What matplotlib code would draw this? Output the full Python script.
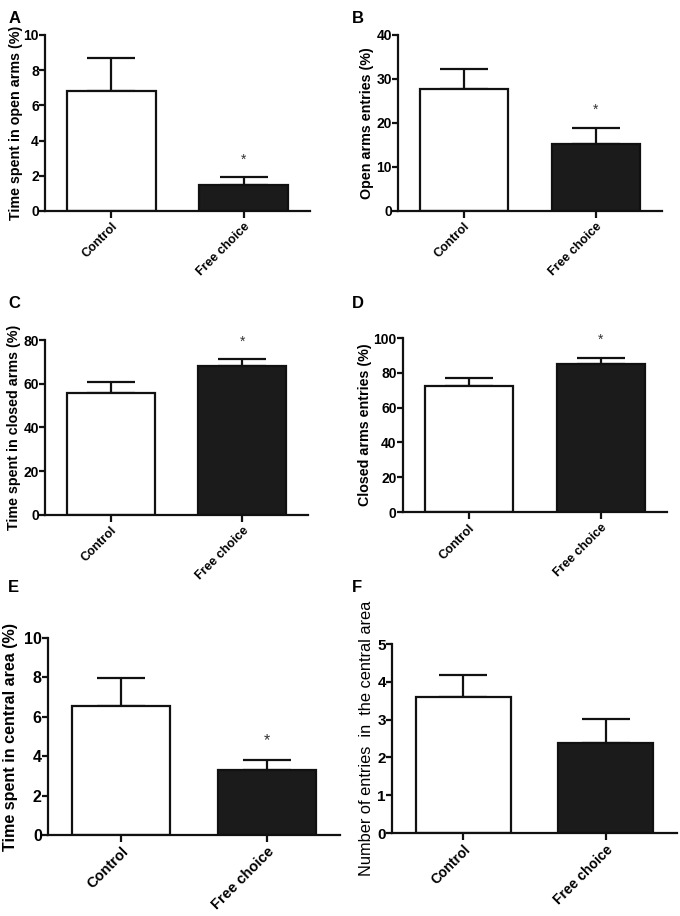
import numpy as np
import matplotlib
matplotlib.use("Agg")
import matplotlib.pyplot as plt

plt.rcParams['font.family'] = ['Liberation Sans', 'DejaVu Sans']

# data (mean, upper SEM)
groups = ["Control", "Free choice"]

open_time_mean = [6.82, 1.46]
open_time_err = [1.85, 0.45]

open_entries_mean = [27.7, 15.2]
open_entries_err = [4.6, 3.7]

closed_time_mean = [55.9, 68.1]
closed_time_err = [4.9, 3.1]

closed_entries_mean = [72.6, 85.2]
closed_entries_err = [4.4, 3.5]

central_time_mean = [6.57, 3.28]
central_time_err = [1.39, 0.52]

central_entries_mean = [3.59, 2.38]
central_entries_err = [0.59, 0.63]

significant = {
    "A": [False, True], "B": [False, True], "C": [False, True],
    "D": [False, True], "E": [False, True], "F": [False, False],
}

FIG_W = 680

panels = [
    # letter, means, errs, ylabel, ymax, ystep, rect, bold label,
    # tick fs, label fs, label centre offset from axis (px)
    ("A", open_time_mean, open_time_err, "Time spent in open arms (%)", 10, 2,
     [0.0662, 0.7697, 0.3897, 0.1921], True, 9, 10.3, -29),
    ("B", open_entries_mean, open_entries_err, "Open arms entries (%)", 40, 10,
     [0.5853, 0.7697, 0.3882, 0.1921], True, 9, 10.3, -31),
    ("C", closed_time_mean, closed_time_err, "Time spent in closed arms (%)", 80, 20,
     [0.0662, 0.4378, 0.3868, 0.1910], True, 9, 10.3, -31),
    ("D", closed_entries_mean, closed_entries_err, "Closed arms entries (%)", 100, 20,
     [0.5926, 0.4410, 0.3882, 0.1900], True, 9, 10.3, -38),
    ("E", central_time_mean, central_time_err, "Time spent in central area (%)", 10, 2,
     [0.0706, 0.0884, 0.4294, 0.2151], True, 10.5, 11.6, -38),
    ("F", central_entries_mean, central_entries_err,
     "Number of entries  in  the central area", 5, 1,
     [0.5765, 0.0906, 0.4191, 0.2063], False, 10, 11.8, -26),
]

letter_pos = {"A": (0.012, 0.988), "B": (0.518, 0.988),
              "C": (0.012, 0.677), "D": (0.518, 0.677),
              "E": (0.012, 0.367), "F": (0.518, 0.367)}

fig = plt.figure(figsize=(6.8, 9.16), dpi=100)

for letter, means, errs, ylabel, ymax, ystep, rect, bold_label, fs, lfs, loff in panels:
    ax = fig.add_axes(rect)
    x = np.arange(len(groups))
    ax.bar(x, means, width=0.67, color=["white", "#1b1b1b"],
           edgecolor="#111111", linewidth=1.6, zorder=2)
    ax.errorbar(x, means, yerr=[np.zeros(len(errs)), errs], fmt="none",
                ecolor="#111111", elinewidth=1.6, capsize=17, capthick=1.6,
                zorder=1)
    for xi, m, e, sig in zip(x, means, errs, significant[letter]):
        if sig:
            ax.text(xi, m + e + ymax * 0.1, "*", ha="center", va="center",
                    fontsize=fs + 1, color="#333333")

    ax.set_xlim(-0.5, 1.5)
    ax.set_ylim(0, ymax)
    ax.set_yticks(np.arange(0, ymax + ystep / 2, ystep))
    ax.set_xticks(x)
    ax.set_xticklabels(groups, rotation=45, ha="right", rotation_mode="anchor",
                       fontweight="bold", fontsize=fs)
    for lab in ax.get_yticklabels():
        lab.set_fontweight("bold")
        lab.set_fontsize(fs + 1)
    ax.set_ylabel(ylabel, fontweight="bold" if bold_label else "normal",
                  fontsize=lfs, va="center")
    ax.yaxis.set_label_coords(loff / (rect[2] * FIG_W), 0.5)

    for side in ("top", "right"):
        ax.spines[side].set_visible(False)
    for side in ("left", "bottom"):
        ax.spines[side].set_linewidth(1.6)
        ax.spines[side].set_color("#111111")
    ax.tick_params(axis="y", width=1.6, length=4, color="#111111", pad=0.5)
    ax.tick_params(axis="x", width=1.6, length=5, color="#111111", pad=2)

    lx, ly = letter_pos[letter]
    fig.text(lx, ly, letter, fontsize=12, fontweight="bold", ha="left", va="top")

fig.savefig("out.png", dpi=100, facecolor="white")
